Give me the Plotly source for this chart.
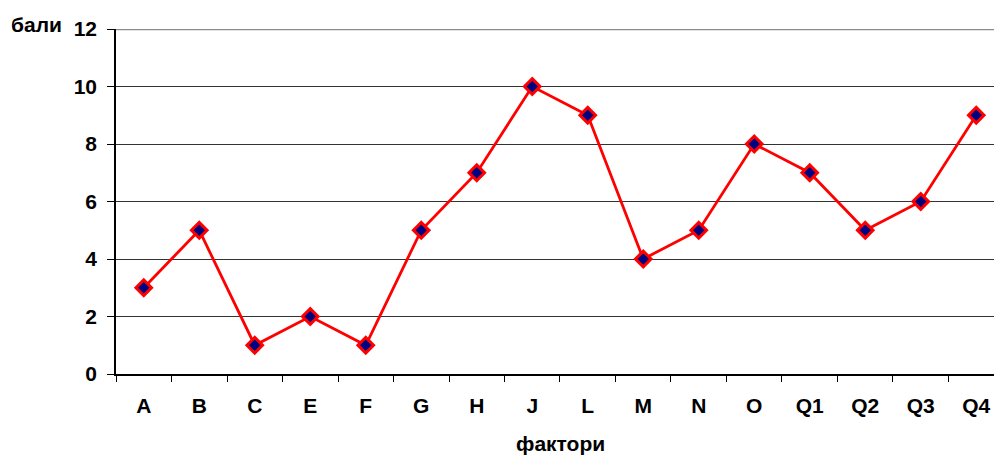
import plotly.graph_objects as go

categories = ["A", "B", "C", "E", "F", "G", "H", "J", "L", "M", "N", "O", "Q1", "Q2", "Q3", "Q4"]
scores = [3, 5, 1, 2, 1, 5, 7, 10, 9, 4, 5, 8, 7, 5, 6, 9]
y_ticks = [0, 2, 4, 6, 8, 10, 12]

FONT = "Liberation Sans, Arial, sans-serif"
FS = 21

fig = go.Figure()
fig.add_trace(go.Scatter(
    x=categories, y=scores, mode="lines+markers",
    line=dict(color="#ff0000", width=2.8),
    marker=dict(symbol="diamond", size=12, color="#000080",
                line=dict(color="#ff0000", width=3)),
    cliponaxis=False, showlegend=False,
))

fig.update_layout(
    width=994, height=455,
    margin=dict(l=116, r=0, t=29, b=81),
    paper_bgcolor="white", plot_bgcolor="white",
    font=dict(family=FONT, size=FS, color="black"),
    xaxis=dict(
        type="category", range=[-0.5, 15.32],
        showline=True, linecolor="black", linewidth=1.5,
        ticks="outside", tickson="boundaries", ticklen=6, tickcolor="black", tickwidth=1,
        ticklabelstandoff=12,
        showgrid=False, zeroline=False,
        tickfont=dict(family=FONT, size=FS, color="black", weight="bold"),
    ),
    yaxis=dict(
        range=[0, 12], tickvals=y_ticks,
        showline=True, linecolor="black", linewidth=1.5,
        ticks="outside", ticklen=7, tickcolor="black", tickwidth=1,
        ticklabelstandoff=6,
        showgrid=True, gridcolor="#333333", gridwidth=1,
        zeroline=False,
        tickfont=dict(family=FONT, size=FS, color="black", weight="bold"),
    ),
    shapes=[dict(type="line", xref="paper", yref="y", x0=0, x1=1, y0=12, y1=12,
                 line=dict(color="#8c8c8c", width=2.5), layer="above")],
    annotations=[
        dict(text="<b>бали</b>", xref="paper", yref="paper", x=-116/878, y=1.0,
             xanchor="left", yanchor="middle", xshift=9, yshift=5, showarrow=False,
             font=dict(family=FONT, size=FS, color="black")),
        dict(text="<b>фактори</b>", xref="paper", yref="paper", x=(560-116)/878, y=0,
             xanchor="center", yanchor="middle", yshift=-69, showarrow=False,
             font=dict(family=FONT, size=FS, color="black")),
    ],
)

fig.write_html("out.html", config={"displayModeBar": False},
               post_script="document.body.style.margin='0';")
